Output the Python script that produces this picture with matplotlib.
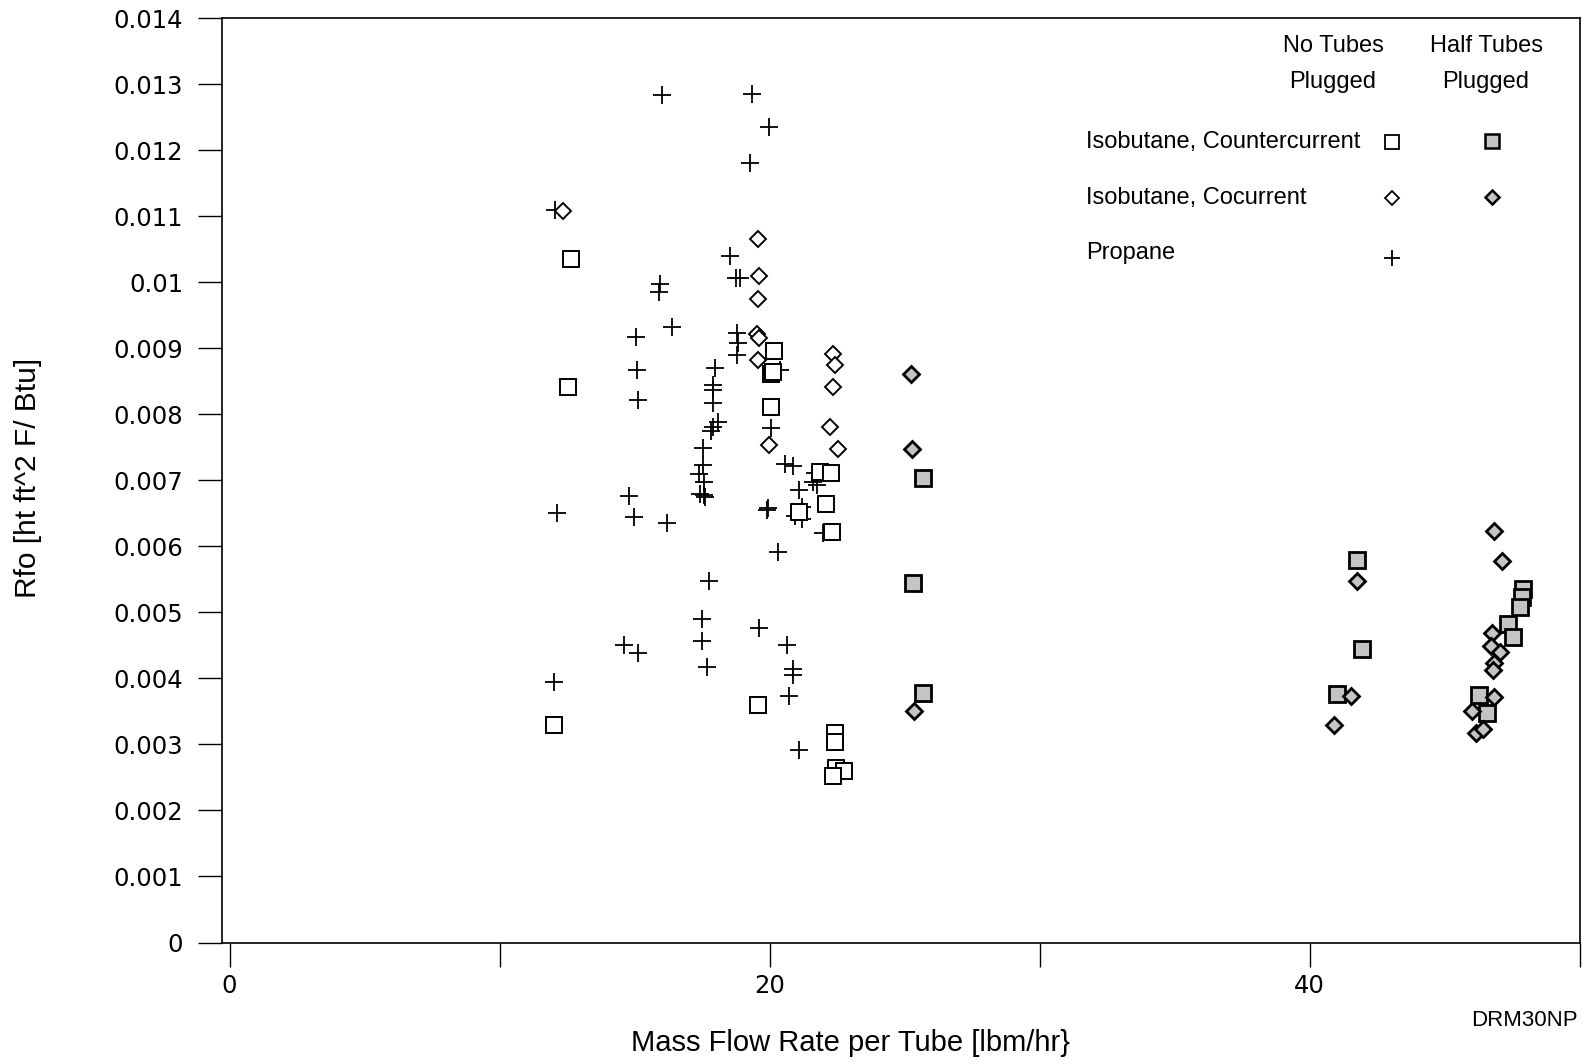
import matplotlib
matplotlib.use("Agg")
import matplotlib.pyplot as plt
from matplotlib.lines import Line2D

plt.rcParams['font.family'] = ['Liberation Sans', 'DejaVu Sans']

# ---------------- data (x: lbm/hr, y: Rfo in units of 0.001) ----------------
prop_x = [16.01, 19.36, 19.97, 19.29, 12.06, 18.54, 18.75, 18.92, 15.94, 15.92,
          16.40, 15.06, 18.81, 18.83, 18.81, 20.39, 15.08, 17.97, 17.92, 17.92,
          15.13, 17.92, 20.04, 18.10, 17.92, 17.82, 17.53, 17.55, 17.40, 17.57,
          17.43, 17.57, 17.61, 20.57, 20.88, 21.69, 21.62, 21.74, 21.10, 19.96,
          19.90, 21.19, 20.94, 21.19, 21.99, 20.33, 12.12, 14.80, 14.99, 16.19,
          17.77, 17.49, 17.49, 17.67, 19.62, 20.64, 20.86, 20.88, 20.73, 21.09,
          14.61, 15.14, 12.02]
prop_y = [12.84, 12.85, 12.35, 11.81, 11.09, 10.40, 10.07, 10.07, 9.98, 9.85,
          9.33, 9.17, 9.23, 9.08, 8.90, 8.67, 8.67, 8.70, 8.44, 8.37,
          8.22, 8.17, 7.80, 7.89, 7.81, 7.75, 7.49, 7.23, 7.10, 6.98,
          6.80, 6.78, 6.75, 7.25, 7.22, 7.11, 6.98, 6.93, 6.85, 6.58,
          6.55, 6.60, 6.46, 6.42, 6.20, 5.91, 6.50, 6.76, 6.45, 6.36,
          5.47, 4.90, 4.57, 4.18, 4.77, 4.51, 4.15, 4.05, 3.73, 2.92,
          4.51, 4.38, 3.95]

cc_no_x = [12.64, 12.53, 20.18, 20.04, 20.12, 20.04, 21.87, 22.27, 22.09, 21.10,
           22.30, 12.03, 19.59, 22.43, 22.43, 22.47, 22.74, 22.34]
cc_no_y = [10.36, 8.41, 8.96, 8.61, 8.64, 8.11, 7.13, 7.11, 6.64, 6.52,
           6.22, 3.29, 3.59, 3.17, 3.04, 2.64, 2.60, 2.52]

co_no_x = [12.36, 19.56, 19.62, 19.59, 19.53, 19.62, 22.34, 22.43, 19.59, 22.34,
           22.24, 19.97, 22.55]
co_no_y = [11.08, 10.66, 10.09, 9.75, 9.21, 9.16, 8.92, 8.74, 8.82, 8.42,
           7.81, 7.53, 7.47]

cc_half_x = [25.67, 25.33, 25.70, 41.75, 41.96, 41.01, 47.92, 47.86, 47.80, 47.34,
             47.54, 46.29, 46.57]
cc_half_y = [7.04, 5.45, 3.78, 5.80, 4.44, 3.76, 5.36, 5.24, 5.08, 4.83,
             4.63, 3.75, 3.47]

co_half_x = [25.23, 25.27, 25.35, 46.84, 47.12, 41.75, 41.54, 40.91, 46.76, 46.73,
             47.06, 46.83, 46.80, 46.84, 46.01, 46.16, 46.43]
co_half_y = [8.61, 7.48, 3.50, 6.24, 5.78, 5.47, 3.73, 3.30, 4.69, 4.49,
             4.40, 4.23, 4.13, 3.72, 3.50, 3.18, 3.23]

y_ticks = [0, 0.001, 0.002, 0.003, 0.004, 0.005, 0.006, 0.007,
           0.008, 0.009, 0.01, 0.011, 0.012, 0.013, 0.014]
y_tick_labels = ['0', '0.001', '0.002', '0.003', '0.004', '0.005', '0.006', '0.007',
                 '0.008', '0.009', '0.01', '0.011', '0.012', '0.013', '0.014']
x_ticks = [0, 10, 20, 30, 40, 50]
x_tick_labels = ['0', '', '20', '', '40', '']

legend_rows = ['Isobutane, Countercurrent', 'Isobutane, Cocurrent', 'Propane']

# ---------------- figure ----------------
W, H = 1584, 1064
fig = plt.figure(figsize=(W / 100, H / 100), dpi=100)
ax = fig.add_axes([222 / W, 1 - 942.5 / H, (1579.5 - 222) / W, (942.5 - 18.2) / H])

def sc(v):
    return [a * 1e-3 for a in v]

GRAY = '#c4c4c4'
ax.plot(prop_x, sc(prop_y), linestyle='none', marker='+', ms=13, mew=1.3, color='black')
ax.plot(cc_no_x, sc(cc_no_y), linestyle='none', marker='s', ms=11.5, mew=1.4,
        mfc='white', mec='black')
ax.plot(co_no_x, sc(co_no_y), linestyle='none', marker='D', ms=8.5, mew=1.4,
        mfc='white', mec='black')
ax.plot(cc_half_x, sc(cc_half_y), linestyle='none', marker='s', ms=11.5, mew=2.0,
        mfc=GRAY, mec='black')
ax.plot(co_half_x, sc(co_half_y), linestyle='none', marker='D', ms=8.5, mew=2.0,
        mfc=GRAY, mec='black')

ax.set_xlim(-0.28, 50)
ax.set_ylim(0, 0.014)
ax.set_yticks(y_ticks)
ax.set_yticklabels(y_tick_labels, family='DejaVu Sans', fontsize=17.5)
ax.set_xticks(x_ticks)
ax.set_xticklabels(x_tick_labels, family='DejaVu Sans', fontsize=17.5)
ax.tick_params(axis='both', direction='out', length=17, width=1.0, colors='black')
ax.tick_params(axis='y', pad=11)
ax.tick_params(axis='x', pad=6)
for s in ax.spines.values():
    s.set_linewidth(1.2)

# axis labels
fig.text(28 / W, 1 - 478 / H, 'Rfo [ht ft^2 F/ Btu]', rotation=90, ha='center',
         va='center', fontsize=21.5)
fig.text(851 / W, 1 - 1043 / H, 'Mass Flow Rate per Tube [lbm/hr}', ha='center',
         va='center', fontsize=21)
fig.text(1578 / W, 1 - 1020 / H, 'DRM30NP', ha='right', va='center', fontsize=16)

# custom legend
fs = 17
fig.text(1333 / W, 1 - 45.5 / H, 'No Tubes', ha='center', va='center', fontsize=fs)
fig.text(1333 / W, 1 - 82 / H, 'Plugged', ha='center', va='center', fontsize=fs)
fig.text(1486 / W, 1 - 45.5 / H, 'Half Tubes', ha='center', va='center', fontsize=fs)
fig.text(1486 / W, 1 - 82 / H, 'Plugged', ha='center', va='center', fontsize=fs)
row_y = [142.4, 198, 252.5]
for lbl, yy in zip(legend_rows, row_y):
    fig.text(1086 / W, 1 - yy / H, lbl, ha='left', va='center', fontsize=fs)

def fig_marker(xp, yp, **kw):
    fig.add_artist(Line2D([xp / W], [1 - yp / H], transform=fig.transFigure,
                          linestyle='none', **kw))

fig_marker(1392, 142.4, marker='s', ms=10, mew=1.3, mfc='white', mec='black')
fig_marker(1492, 141, marker='s', ms=10, mew=1.8, mfc=GRAY, mec='black')
fig_marker(1392, 198, marker='D', ms=7.5, mew=1.3, mfc='white', mec='black')
fig_marker(1492, 197, marker='D', ms=7.5, mew=1.8, mfc=GRAY, mec='black')
fig_marker(1392, 258, marker='+', ms=11, mew=1.3, color='black')

fig.savefig('out.png', dpi=100)
